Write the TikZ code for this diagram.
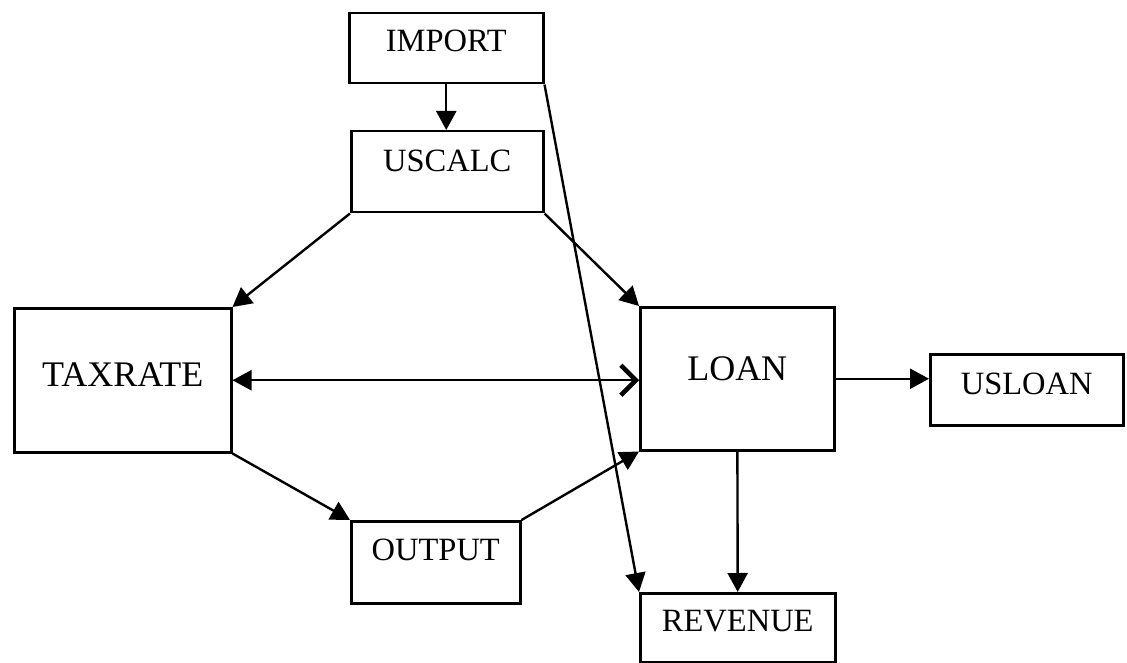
\documentclass[tikz,border=0pt]{standalone}
\usepackage{fontspec}
\setmainfont{Liberation Serif}
\usetikzlibrary{arrows.meta}

\begin{document}
\begin{tikzpicture}[x=1pt,y=-1pt,>={Triangle[length=19pt,width=20pt]},line width=2.4pt,
  modbox/.style={draw,line width=2.5pt,inner sep=0pt,anchor=north west,font=\fontsize{32.5}{39}\selectfont},
  bigbox/.style={modbox,font=\fontsize{36}{43}\selectfont}]
\useasboundingbox (0,0) rectangle (1127,663);
% modules
\node[modbox,minimum width=194pt,text height=38pt,text depth=32pt] (import) at (348,12) {IMPORT};
\node[modbox,minimum width=192pt,text height=40pt,text depth=41pt] (uscalc) at (350,130) {USCALC};
\node[bigbox,minimum width=217pt,text height=78pt,text depth=66pt] (taxrate) at (13,307) {TAXRATE};
\node[bigbox,minimum width=194pt,text height=73pt,text depth=70pt] (loan) at (639,306) {LOAN};
\node[modbox,minimum width=193pt,text height=40pt,text depth=31pt] (usloan) at (929,353) {USLOAN};
\node[modbox,minimum width=169pt,text height=39pt,text depth=43pt] (output) at (350,520) {OUTPUT};
\node[modbox,minimum width=195pt,text height=38pt,text depth=31pt] (revenue) at (639,592) {REVENUE};
% flows
\draw[->] (import.south) -- (import.south |- uscalc.north);
\draw[->] (import.south east) -- (revenue.north west);
\draw[->] (uscalc.south west) -- (taxrate.north east);
\draw[->] (uscalc.south east) -- (loan.north west);
\draw[<-{Straight Barb[length=15pt,width=30pt,line width=4.5pt]}] (taxrate.east) -- (taxrate.east -| loan.west);
\draw[->] (taxrate.south east) -- (output.north west);
\draw[->] (output.north east) -- (loan.south west);
\draw[->] (loan.east) -- (loan.east -| usloan.west);
\draw[->] (loan) -- (revenue);
\end{tikzpicture}
\end{document}
